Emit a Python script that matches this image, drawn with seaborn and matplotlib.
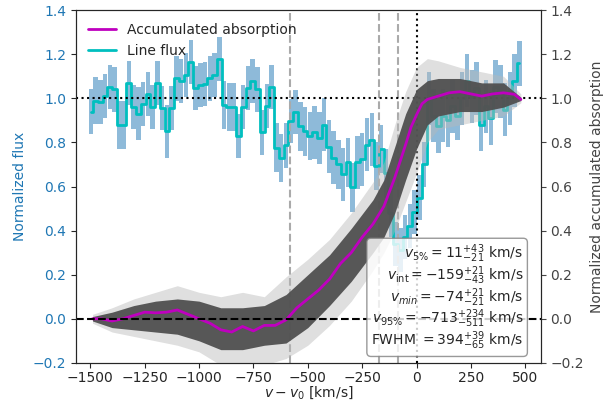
import numpy as np
import matplotlib.pyplot as plt
import seaborn as sns
from matplotlib.lines import Line2D

sns.set_style("ticks")
plt.rcParams['font.family'] = ['DejaVu Sans']

# Line flux per velocity bin (centres) and 1-sigma errors
v_flux = np.linspace(-1498, 473, 91)
flux = [0.94, 0.99, 0.985, 1.01, 1.05, 1.04, 0.88, 0.88, 1.07, 0.96,
        0.93, 0.975, 1.02, 0.96, 1.07, 0.955, 0.85, 0.955, 1.09, 1.08,
        1.105, 1.165, 1.045, 1.06, 1.065, 1.09, 1.105, 1.18, 0.97, 0.96,
        0.96, 0.83, 0.96, 1.045, 1.08, 1.04, 0.845, 0.965, 1.05,
        0.776, 0.73, 0.786, 0.896, 0.936, 0.873, 0.85, 0.83, 0.845, 0.82,
        0.88, 0.78, 0.73, 0.70, 0.656, 0.71, 0.596, 0.71, 0.724, 0.79,
        0.813, 0.693, 0.77, 0.66, 0.48, 0.34, 0.31, 0.37, 0.42, 0.485,
        0.55, 0.70,
        1.0, 0.92, 0.873, 0.92, 0.90, 0.963, 0.92, 1.0, 1.08, 1.008,
        1.046, 0.88, 0.963, 0.91, 1.053, 1.03, 0.948, 1.0, 1.08, 1.158]
flux_err = [0.10, 0.105, 0.10, 0.10, 0.10, 0.10, 0.11, 0.11, 0.10, 0.10,
            0.12, 0.10, 0.10, 0.10, 0.10, 0.10, 0.12, 0.10, 0.10, 0.10,
            0.10, 0.10, 0.10, 0.10, 0.10, 0.10, 0.10, 0.10, 0.11, 0.11,
            0.11, 0.10, 0.10, 0.10, 0.10, 0.10, 0.10, 0.10, 0.10,
            0.11, 0.11, 0.10, 0.10, 0.10, 0.11, 0.11, 0.11, 0.12, 0.12,
            0.12, 0.12, 0.12, 0.11, 0.12, 0.11, 0.11, 0.12, 0.12, 0.12,
            0.12, 0.11, 0.11, 0.11, 0.11, 0.10, 0.10, 0.10, 0.10, 0.10,
            0.10, 0.10,
            0.12, 0.12, 0.12, 0.12, 0.12, 0.12, 0.11, 0.12, 0.12, 0.12,
            0.12, 0.12, 0.12, 0.12, 0.12, 0.12, 0.12, 0.12, 0.12, 0.10]

# Median accumulated absorption
v_acc = [-1490, -1450, -1400, -1350, -1300, -1250, -1200, -1150, -1100, -1050,
         -1000, -950, -900, -850, -800, -750, -700, -650, -600, -550,
         -500, -450, -400, -350, -300, -250, -200, -150, -100, -50,
         -25, 0, 25, 50, 100, 150, 200, 250, 300, 350,
         400, 450, 480]
acc = [0.0, 0.0, -0.01, 0.0, 0.015, 0.03, 0.027, 0.03, 0.04, 0.02,
       0.0, -0.02, -0.05, -0.06, -0.035, -0.055, -0.03, -0.03, -0.005, 0.05,
       0.09, 0.13, 0.18, 0.25, 0.30, 0.37, 0.43, 0.51, 0.64, 0.79,
       0.87, 0.925, 0.975, 0.995, 1.01, 1.025, 1.03, 1.02, 1.01, 1.02,
       1.025, 1.018, 0.995]

# Spread of the accumulated absorption realisations
v_env = [-1490, -1400, -1300, -1200, -1100, -1000, -900, -800, -700, -600,
         -500, -400, -300, -200, -150, -100, -50, 0, 50, 100,
         200, 300, 400, 480]
inner_lo = [-0.01, -0.04, -0.05, -0.06, -0.07, -0.10, -0.14, -0.14, -0.12, -0.11,
            -0.04, 0.06, 0.17, 0.30, 0.37, 0.48, 0.63, 0.77, 0.88, 0.92,
            0.94, 0.94, 0.96, 0.99]
inner_hi = [0.01, 0.03, 0.06, 0.08, 0.09, 0.08, 0.05, 0.05, 0.06, 0.11,
            0.20, 0.29, 0.41, 0.54, 0.63, 0.78, 0.93, 1.04, 1.08, 1.09,
            1.09, 1.07, 1.07, 1.005]
outer_lo = [-0.02, -0.06, -0.08, -0.10, -0.12, -0.15, -0.21, -0.21, -0.21, -0.18,
            -0.12, -0.03, 0.08, 0.22, 0.30, 0.40, 0.53, 0.66, 0.80, 0.86,
            0.88, 0.90, 0.92, 0.98]
outer_hi = [0.02, 0.05, 0.09, 0.12, 0.15, 0.12, 0.10, 0.12, 0.10, 0.19,
            0.27, 0.36, 0.48, 0.62, 0.71, 0.88, 1.03, 1.14, 1.18, 1.17,
            1.14, 1.12, 1.10, 1.02]

# Marked velocities
v_marks = [-582, -171, -84]
v_zero = 0

stats_text = "\n".join([
    r"$v_{5\%} = 11^{+43}_{-21}$ km/s",
    r"$v_{\rm int} = -159^{+21}_{-43}$ km/s",
    r"$v_{min} = -74^{+21}_{-21}$ km/s",
    r"$v_{95\%} = -713^{+234}_{-511}$ km/s",
    r"FWHM $= 394^{+39}_{-65}$ km/s",
])

fig, ax1 = plt.subplots(figsize=(6.03, 4.05), dpi=100)
fig.subplots_adjust(left=0.126, right=0.897, top=0.975, bottom=0.104)
ax2 = ax1.twinx()

# flux axis
fe = np.array(flux_err)
ax1.bar(v_flux, 2 * fe, bottom=np.array(flux) - fe, width=20.5,
        color='tab:blue', alpha=0.5, linewidth=0)
sns.lineplot(x=v_flux, y=flux, drawstyle='steps-mid', color='c', lw=2,
             ax=ax1, legend=False)
for v in v_marks:
    ax1.axvline(v, color='#aaaaaa', ls='--', lw=1.5)
ax1.axvline(v_zero, color='k', ls=':', lw=1.5)
ax1.axhline(1.0, color='k', ls=':', lw=1.5)

# accumulated absorption axis
ax2.fill_between(v_env, outer_lo, outer_hi, color='#b8b8b8', alpha=0.45, lw=0)
ax2.fill_between(v_env, inner_lo, inner_hi, color='#505050', alpha=0.95, lw=0)
sns.lineplot(x=v_acc, y=acc, color='m', lw=2, ax=ax2, legend=False)
ax2.axhline(0.0, color='k', ls='--', lw=1.5)

for ax in (ax1, ax2):
    ax.set_ylim(-0.2, 1.4)
    ax.set_yticks(np.arange(-0.2, 1.41, 0.2))
ax1.set_xlim(-1566, 572)
ax1.set_xticks(np.arange(-1500, 501, 250))
ax1.tick_params(axis='x', pad=2.5)

ax1.set_xlabel(r"$v - v_0$ [km/s]", labelpad=-0.5)
ax1.set_ylabel("Normalized flux", color='tab:blue')
ax1.tick_params(axis='y', labelcolor='tab:blue')
ax2.set_ylabel("Normalized accumulated absorption", color='#444444')
ax2.tick_params(axis='y', colors='#444444')

handles = [Line2D([], [], color='m', lw=2), Line2D([], [], color='c', lw=2)]
ax2.legend(handles, ["Accumulated absorption", "Line flux"], loc='upper left',
           frameon=False)

ax2.text(0.962, 0.03, stats_text, transform=ax2.transAxes, ha='right',
         va='bottom', multialignment='right', linespacing=0.95,
         bbox=dict(boxstyle='round', facecolor='white', alpha=0.8,
                   edgecolor='gray'))

fig.savefig("out.png", dpi=100)
